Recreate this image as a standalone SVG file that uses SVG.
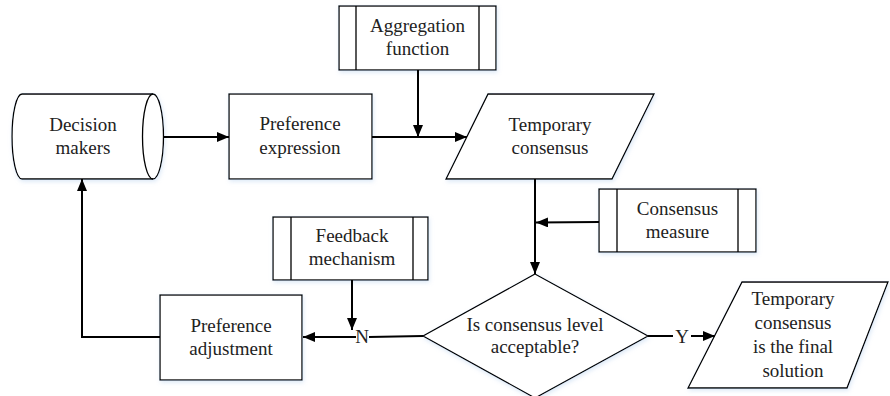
<svg xmlns="http://www.w3.org/2000/svg" width="890" height="396" viewBox="0 0 890 396" font-family="'Liberation Serif', serif">
<style>
.s{fill:#fff;stroke:#000;stroke-width:1.3}
.l{fill:none;stroke:#000;stroke-width:1.3}
.c{fill:none;stroke:#000;stroke-width:2}
.t{font-family:'Liberation Serif',serif;font-size:19px;fill:#222;text-anchor:middle}
</style>
<defs>
<marker id="a" markerUnits="userSpaceOnUse" markerWidth="13" markerHeight="11" refX="12" refY="5" orient="auto"><path d="M0,0 L12,5 L0,10 z" fill="#000"/></marker>
<filter id="sh" x="-10%" y="-10%" width="120%" height="130%"><feDropShadow dx="1" dy="2" stdDeviation="2" flood-color="#9cc0e8" flood-opacity="0.35"/></filter>
</defs>
<g id="decision-makers">
<path class="s" filter="url(#sh)" d="M22,94 H153 A10.5,42.5 0 0 1 153,179 H22 A10,42.5 0 0 1 22,94 Z"/>
<path class="l" d="M153,94 A10.5,42.5 0 0 0 153,179"/>
<text class="t" x="83" y="131">Decision</text><text class="t" x="83" y="154">makers</text>
</g>
<g id="preference-expression">
<rect class="s" filter="url(#sh)" x="229" y="94" width="143" height="85"/>
<text class="t" x="300" y="130">Preference</text><text class="t" x="300" y="154">expression</text>
</g>
<g id="aggregation-function">
<rect class="s" filter="url(#sh)" x="339" y="6" width="157" height="64"/>
<path class="l" d="M356,6 V70 M479,6 V70"/>
<text class="t" x="417.5" y="32">Aggregation</text><text class="t" x="417.5" y="55">function</text>
</g>
<g id="temporary-consensus">
<path class="s" filter="url(#sh)" d="M488,94 H654 L612,179 H446 Z"/>
<text class="t" x="550" y="131">Temporary</text><text class="t" x="550" y="154">consensus</text>
</g>
<g id="consensus-measure">
<rect class="s" filter="url(#sh)" x="599" y="189" width="157" height="63"/>
<path class="l" d="M617,189 V252 M738,189 V252"/>
<text class="t" x="677.5" y="215">Consensus</text><text class="t" x="677.5" y="238">measure</text>
</g>
<g id="feedback-mechanism">
<rect class="s" filter="url(#sh)" x="273" y="217" width="155" height="63"/>
<path class="l" d="M291,217 V280 M413,217 V280"/>
<text class="t" x="352" y="242">Feedback</text><text class="t" x="352" y="265">mechanism</text>
</g>
<g id="preference-adjustment">
<rect class="s" filter="url(#sh)" x="160" y="295" width="142" height="85"/>
<text class="t" x="231" y="332">Preference</text><text class="t" x="231" y="355">adjustment</text>
</g>
<g id="decision">
<path class="s" filter="url(#sh)" d="M535,274 L648,336 L535,398 L423,336 Z"/>
<text class="t" x="535" y="331">Is consensus level</text><text class="t" x="535" y="353">acceptable?</text>
</g>
<g id="final-solution">
<path class="s" filter="url(#sh)" d="M742,282 H888 L847,388 H688 Z"/>
<text class="t" x="793" y="305">Temporary</text><text class="t" x="793" y="329">consensus</text><text class="t" x="793" y="353">is the final</text><text class="t" x="793" y="377">solution</text>
</g>
<g id="connectors">
<line class="c" x1="164" y1="137" x2="229" y2="137" marker-end="url(#a)"/>
<line class="c" x1="372" y1="137" x2="467" y2="137" marker-end="url(#a)"/>
<line class="c" x1="418" y1="70" x2="418" y2="137" marker-end="url(#a)"/>
<line class="c" x1="535" y1="179" x2="535" y2="274" marker-end="url(#a)"/>
<line class="c" x1="599" y1="222" x2="536" y2="222.5" marker-end="url(#a)"/>
<line class="c" x1="423" y1="336" x2="369" y2="337"/>
<line class="c" x1="356" y1="337" x2="303" y2="337" marker-end="url(#a)"/>
<line class="c" x1="352" y1="280" x2="352" y2="330" marker-end="url(#a)"/>
<path class="c" d="M160,337 H82 V179" marker-end="url(#a)"/>
<line class="c" x1="648" y1="336" x2="673" y2="336"/>
<line class="c" x1="691" y1="336" x2="715" y2="336" marker-end="url(#a)"/>
<text class="t" x="362" y="343">N</text>
<text class="t" x="682" y="343">Y</text>
</g>
</svg>
